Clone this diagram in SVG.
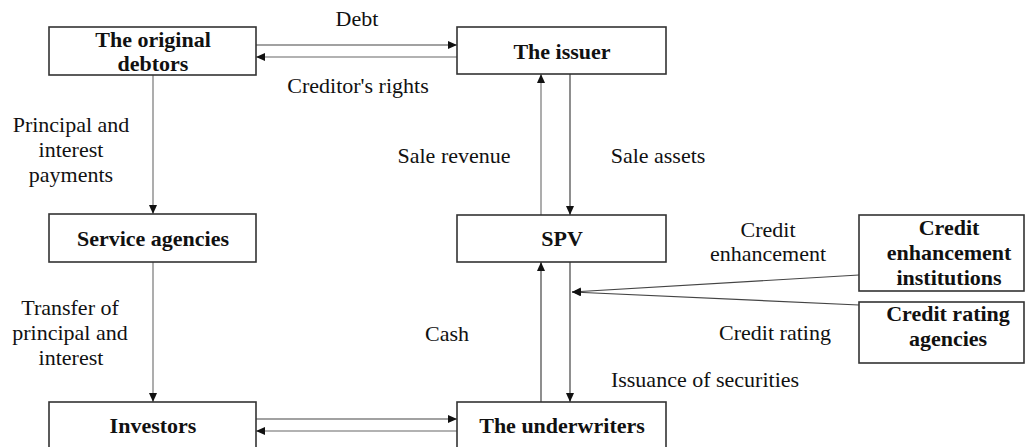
<svg xmlns="http://www.w3.org/2000/svg" width="1025" height="447" viewBox="0 0 1025 447">
<defs>
<marker id="ah" markerUnits="userSpaceOnUse" markerWidth="10" markerHeight="9" refX="9" refY="4" orient="auto">
<path d="M0,0 L9,4 L0,8 Z" fill="#111"/>
</marker>
<style>
.box{fill:#fff;stroke:#333;stroke-width:1.6}
.bt{font-family:"Liberation Serif","Times New Roman",serif;font-weight:bold;font-size:22px;fill:#111;text-anchor:middle}
.lt{font-family:"Liberation Serif","Times New Roman",serif;font-size:22px;fill:#111;text-anchor:middle}
.dk{stroke:#444;stroke-width:1.2;fill:none}
.gy{stroke:#999;stroke-width:1.6;fill:none}
</style>
</defs>
<rect width="1025" height="447" fill="#fff"/>
<g id="connectors">
<line class="dk" x1="256" y1="45" x2="457" y2="45" marker-end="url(#ah)"/>
<line class="gy" x1="457" y1="57" x2="256" y2="57" marker-end="url(#ah)"/>
<line class="gy" x1="153" y1="75" x2="153" y2="214" marker-end="url(#ah)"/>
<line class="gy" x1="153" y1="262" x2="153" y2="402" marker-end="url(#ah)"/>
<line class="gy" x1="541" y1="215" x2="541" y2="74" marker-end="url(#ah)"/>
<line class="dk" x1="570" y1="74" x2="570" y2="215" marker-end="url(#ah)"/>
<line class="dk" x1="541" y1="402" x2="541" y2="262" marker-end="url(#ah)"/>
<line class="dk" x1="570" y1="262" x2="570" y2="402" marker-end="url(#ah)"/>
<line class="dk" x1="256" y1="419" x2="457" y2="419" marker-end="url(#ah)"/>
<line class="gy" x1="457" y1="431" x2="256" y2="431" marker-end="url(#ah)"/>
<line class="dk" x1="859" y1="275" x2="572" y2="292" marker-end="url(#ah)"/>
<line class="dk" x1="859" y1="305" x2="572" y2="292" marker-end="url(#ah)"/>
</g>
<g id="labels">
<text class="lt" x="357" y="26">Debt</text>
<text class="lt" x="358" y="93">Creditor's rights</text>
<text class="lt" x="71" y="132">Principal and</text>
<text class="lt" x="71" y="157">interest</text>
<text class="lt" x="71" y="182">payments</text>
<text class="lt" x="454" y="163">Sale revenue</text>
<text class="lt" x="658" y="163">Sale assets</text>
<text class="lt" x="768" y="237">Credit</text>
<text class="lt" x="768" y="261">enhancement</text>
<text class="lt" x="775" y="340">Credit rating</text>
<text class="lt" x="447" y="341">Cash</text>
<text class="lt" x="705" y="387">Issuance of securities</text>
<text class="lt" x="70" y="315">Transfer of</text>
<text class="lt" x="70" y="340">principal and</text>
<text class="lt" x="71" y="365">interest</text>
</g>
<g id="debtors">
<rect class="box" x="49" y="27" width="207" height="48"/>
<text class="bt" x="153" y="47">The original</text>
<text class="bt" x="153" y="71">debtors</text>
</g>
<g id="issuer">
<rect class="box" x="457" y="27" width="209" height="47"/>
<text class="bt" x="562" y="59">The issuer</text>
</g>
<g id="service">
<rect class="box" x="49" y="214" width="207" height="48"/>
<text class="bt" x="153" y="246">Service agencies</text>
</g>
<g id="spv">
<rect class="box" x="457" y="215" width="209" height="47"/>
<text class="bt" x="562" y="246">SPV</text>
</g>
<g id="enhancement">
<rect class="box" x="859" y="215" width="165" height="76"/>
<text class="bt" x="949" y="235">Credit</text>
<text class="bt" x="949" y="260">enhancement</text>
<text class="bt" x="949" y="285">institutions</text>
</g>
<g id="rating">
<rect class="box" x="859" y="302" width="165" height="61"/>
<text class="bt" x="948" y="321">Credit rating</text>
<text class="bt" x="948" y="346">agencies</text>
</g>
<g id="investors">
<rect class="box" x="49" y="402" width="207" height="60"/>
<text class="bt" x="153" y="433">Investors</text>
</g>
<g id="underwriters">
<rect class="box" x="457" y="402" width="209" height="60"/>
<text class="bt" x="562" y="433">The underwriters</text>
</g>
</svg>
